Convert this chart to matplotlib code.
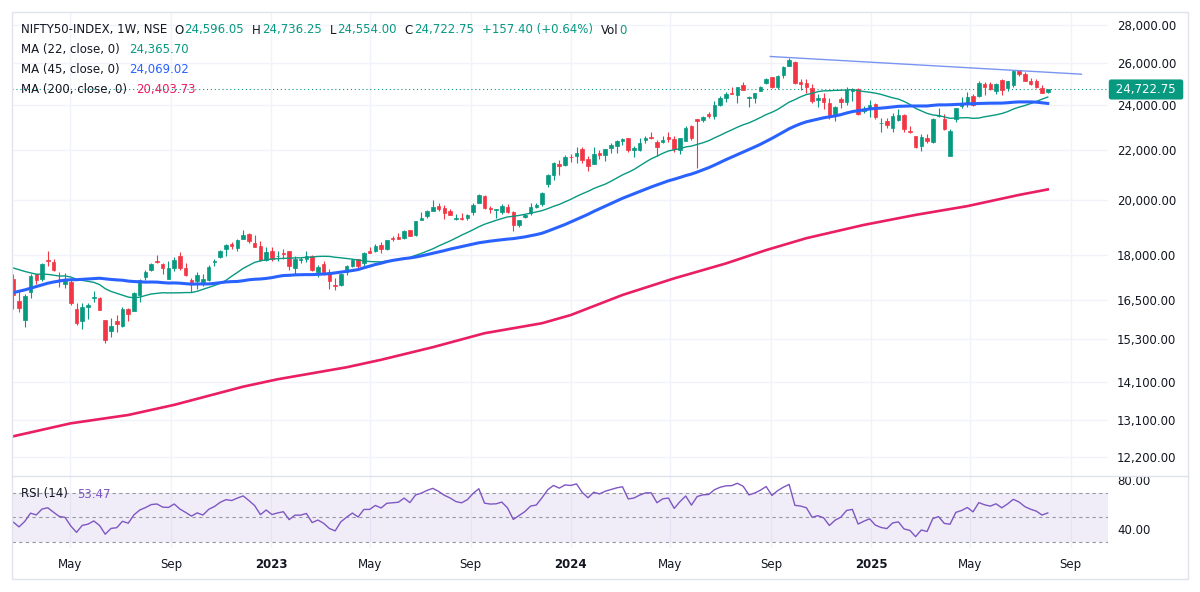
# %%

import numpy as np
import pandas as pd
import matplotlib
matplotlib.use('Agg')
import matplotlib.pyplot as plt
import matplotlib.dates as mdates
from matplotlib.lines import Line2D
from matplotlib.patches import Rectangle
from matplotlib.transforms import blended_transform_factory

# ----------------------
# Data (weekly NIFTY 50 bars)
# ----------------------

firstWeek = '2022-02-21'

opens = [
    17192, 16481, 15867, 16757, 17329, 17181, 17809, 17740, 17183, 17009,
    17096, 16227, 15845, 16290, 16578, 16570, 15877, 15557, 15839, 15710,
    16212, 16151, 16662, 17244, 17474, 17797, 17682, 17188, 17546, 17940,
    17541, 17157, 17102, 17094, 17144, 17736, 17910, 18211, 18376, 18246,
    18552, 18719, 18402, 18288, 17831, 18131, 17953, 18075, 18119, 17541,
    17818, 17859, 17965, 17428, 17681, 17422, 16985, 16978, 17428, 17597,
    17863, 17707, 18124, 18120, 18339, 18201, 18600, 18612, 18595, 18873,
    18682, 19246, 19400, 19588, 19748, 19685, 19576, 19292, 19320, 19312,
    19525, 19890, 20155, 19678, 19622, 19539, 19737, 19521, 19053, 19345,
    19487, 19731, 19844, 20601, 20965, 21434, 21365, 21728, 21747, 22053,
    21615, 21433, 21865, 21809, 22097, 22169, 22403, 22518, 21990, 21989,
    22455, 22578, 22339, 22336, 22568, 22489, 22028, 22404, 23039, 23338,
    23319, 23570, 23498, 23987, 24329, 24577, 24446, 24943, 24303, 24320,
    24637, 25011, 25333, 24823, 25406, 25872, 26061, 25084, 25023, 24798,
    24251, 24315, 24087, 23605, 24254, 24140, 24633, 24753, 23738, 23796,
    24045, 23195, 23290, 22940, 23319, 23544, 22809, 22609, 22194, 22522,
    22353, 23515, 23342, 21758, 23368, 23949, 24070, 24419, 24420, 25005,
    25002, 24669, 25160, 24788, 24939, 25661, 25450, 25149, 25108, 24782,
    24596.05]

highs = [
    17351, 16815, 16695, 17344, 17353, 17703, 18114, 17840, 17414, 17379,
    17132, 16404, 16400, 16415, 16794, 16610, 15886, 15928, 16025, 16275,
    16248, 16752, 17172, 17490, 17719, 17992, 17726, 17778, 17925, 18096,
    17723, 17196, 17428, 17348, 17637, 17838, 18176, 18362, 18442, 18534,
    18888, 18749, 18697, 18473, 18266, 18252, 18127, 18201, 18142, 17972,
    17916, 18134, 17973, 17645, 17800, 17529, 17207, 17381, 17638, 17842,
    17863, 18089, 18267, 18389, 18459, 18508, 18662, 18778, 18887, 18890,
    19202, 19524, 19596, 19991, 19867, 19796, 19645, 19465, 19512, 19458,
    19867, 20222, 20196, 19766, 19658, 19843, 19849, 19593, 19233, 19464,
    19875, 19875, 20291, 21006, 21493, 21593, 21801, 21834, 22125, 22124,
    21750, 22126, 22011, 22068, 22297, 22420, 22526, 22527, 22180, 22516,
    22620, 22776, 22427, 22625, 22794, 22588, 22526, 23026, 23111, 23339,
    23490, 23667, 24175, 24401, 24593, 24854, 24861, 25078, 24420, 24572,
    24867, 25268, 25333, 25433, 25849, 26277, 26134, 25234, 25212, 24978,
    24499, 24538, 24336, 23956, 24355, 24857, 24792, 24781, 23938, 24226,
    24089, 23391, 23426, 23632, 23808, 23568, 23050, 22625, 22677, 22677,
    23403, 23869, 23566, 22923, 23872, 24365, 24590, 24527, 25116, 25070,
    25079, 25030, 25222, 25136, 25654, 25669, 25548, 25255, 25242, 24956,
    24736.25]

lows = [
    16203, 16133, 15671, 16556, 17006, 17129, 17600, 17442, 16917, 16888,
    16340, 15736, 15601, 15903, 16444, 16172, 15184, 15368, 15511, 15662,
    15858, 16142, 16438, 17154, 17442, 17710, 17346, 17167, 17430, 17492,
    17291, 16748, 16855, 16950, 17098, 17598, 17900, 17969, 18210, 18133,
    18542, 18410, 18255, 17779, 17775, 17796, 17774, 17853, 17493, 17353,
    17699, 17761, 17455, 17255, 17324, 16850, 16828, 16940, 17312, 17573,
    17553, 17612, 18042, 18088, 18061, 18178, 18464, 18555, 18552, 18647,
    18646, 19234, 19302, 19562, 19563, 19296, 19413, 19253, 19230, 19224,
    19432, 19865, 19657, 19492, 19333, 19480, 19518, 18837, 18973, 19329,
    19414, 19677, 19768, 20507, 20769, 20977, 21330, 21500, 21448, 21450,
    21137, 21429, 21629, 21530, 21875, 21874, 22225, 21917, 21711, 21948,
    22303, 22468, 21777, 22305, 22348, 21932, 21821, 22404, 22418, 21281,
    23206, 23398, 23350, 23960, 24141, 24508, 24074, 24686, 23894, 24100,
    24635, 24999, 24802, 24753, 25285, 25871, 24966, 24694, 24567, 24074,
    23894, 23816, 23350, 23263, 23873, 24008, 24180, 23537, 23647, 23460,
    23344, 22787, 22976, 22787, 23263, 22775, 22725, 22105, 21965, 22315,
    22314, 23452, 22857, 21744, 23207, 23847, 23890, 23936, 24378, 24462,
    24704, 24526, 24473, 24666, 24825, 25378, 25129, 24918, 24806, 24535,
    24554.00]

closes = [
    16658, 16245, 16630, 17287, 17153, 17670, 17784, 17476, 17172, 17102,
    16411, 15782, 16266, 16352, 16584, 16201, 15293, 15699, 15752, 16220,
    16049, 16719, 17158, 17397, 17698, 17758, 17558, 17539, 17833, 17531,
    17327, 17094, 17315, 17186, 17576, 17787, 18117, 18350, 18307, 18512,
    18696, 18497, 18269, 17807, 18105, 17859, 17956, 18027, 17604, 17854,
    17856, 17944, 17465, 17594, 17413, 17100, 16945, 17359, 17599, 17828,
    17624, 18065, 18069, 18315, 18203, 18499, 18534, 18563, 18826, 18665,
    19189, 19332, 19564, 19745, 19646, 19517, 19428, 19310, 19266, 19435,
    19820, 20192, 19674, 19638, 19653, 19751, 19543, 19047, 19231, 19425,
    19732, 19795, 20268, 20969, 21457, 21349, 21731, 21711, 21895, 21572,
    21353, 21854, 21783, 22041, 22213, 22378, 22493, 22023, 22097, 22327,
    22514, 22519, 22147, 22420, 22476, 22055, 22502, 22957, 22531, 23290,
    23466, 23501, 24010, 24324, 24502, 24531, 24835, 24718, 24367, 24541,
    24823, 25236, 24852, 25357, 25791, 26179, 25014, 24964, 24854, 24181,
    24304, 24148, 23533, 23907, 24131, 24678, 24768, 23588, 23813, 24005,
    23432, 23203, 23092, 23482, 23560, 22929, 22796, 22125, 22553, 22397,
    23350, 23519, 22904, 22829, 23851, 24039, 24347, 24008, 25019, 24853,
    24751, 25003, 24719, 25112, 25637, 25461, 25150, 24968, 24837, 24565.35,
    24722.75]

# 44 weekly closes before the first bar (Apr 2021 - Feb 2022), used to warm up the MAs and RSI
warmupCloses = [
    14341, 14631, 14823, 14677, 15175, 15436, 15670, 15799, 15683, 15860,
    15722, 15690, 15923, 15856, 15763, 16238, 16529, 16450, 16705, 17324,
    17369, 17585, 17853, 17532, 17895, 18339, 18115, 17672, 17917, 18103,
    17765, 17027, 17197, 17512, 16985, 17004, 17354, 17813, 18256, 17617,
    17102, 17516, 17375, 17276]

ma200Weeks = [0, 10, 20, 28, 40, 46, 58, 64, 73, 82, 92, 97, 106, 115, 124, 131, 138, 148, 157, 166, 175, 180]
ma200Vals = [12700, 13020, 13230, 13490, 13970, 14170, 14500, 14710, 15070, 15480, 15780,
             16030, 16660, 17200, 17700, 18160, 18580, 19060, 19430, 19760, 20190, 20404]

trendDates = ['2024-08-31', '2025-09-14']
trendPrices = [26340, 25460]

maLengths = [22, 45, 200]
maLegendVals = ['24,365.70', '24,069.02', '20,403.73']
rsiLegendVal = '53.47'

priceTicks = [12200, 13100, 14100, 15300, 16500, 18000, 20000, 22000, 24000, 26000, 28000]
rsiTicks = [40, 80]
rsiLevels = [30, 50, 70]

timeTicks = ['2022-05-01', '2022-09-01', '2023-01-01', '2023-05-01', '2023-09-01', '2024-01-01',
             '2024-05-01', '2024-09-01', '2025-01-01', '2025-05-01', '2025-09-01']
timeLabels = ['May', 'Sep', '2023', 'May', 'Sep', '2024', 'May', 'Sep', '2025', 'May', 'Sep']

# %%

# ----------------------
# Indicators
# ----------------------

GREEN = '#089981'
RED = '#f23645'
DARK = '#131722'
BLUE = '#2962ff'
PINK = '#e91e63'
PURPLE = '#7e57c2'

o = np.array(opens)
h = np.array(highs)
l = np.array(lows)
c = np.array(closes)
dates = pd.date_range(firstWeek, periods=len(closes), freq='7D')
xDates = mdates.date2num(dates)

allCloses = pd.Series(warmupCloses + closes, dtype=float)
nWarm = len(warmupCloses)
ma22 = allCloses.rolling(22).mean().values[nWarm:]
ma45 = allCloses.rolling(45).mean().values[nWarm:]

delta = allCloses.diff()
gain = delta.clip(lower=0).ewm(alpha=1/14, adjust=False).mean()
loss = (-delta.clip(upper=0)).ewm(alpha=1/14, adjust=False).mean()
rsi = (100 - 100/(1 + gain/loss)).values[nWarm:]

# %%

# ----------------------
# Figure
# ----------------------

W, H = 1200, 592
fig = plt.figure(figsize=(W/100, H/100), dpi=100)
plt.rcParams['font.family'] = 'DejaVu Sans'

left, right = 12, 1108
priceAx = fig.add_axes([left/W, 1 - 476/H, (right-left)/W, (476-12)/H])
rsiAx = fig.add_axes([left/W, 1 - 548/H, (right-left)/W, (548-476)/H], sharex=priceAx)

upBar = c >= o
barColors = np.where(upBar, GREEN, RED)

priceAx.vlines(xDates, l, h, colors=barColors, linewidth=0.8, zorder=3)
priceAx.bar(xDates, np.abs(c - o), bottom=np.minimum(o, c), width=4.3,
            color=barColors, edgecolor=barColors, linewidth=0.5, zorder=4)

priceAx.plot(xDates, ma22, color=GREEN, linewidth=1.0, zorder=5)
priceAx.plot(xDates, ma45, color=BLUE, linewidth=2.2, zorder=5)
priceAx.plot(xDates[ma200Weeks], ma200Vals, color=PINK, linewidth=1.9, zorder=5)
priceAx.plot(mdates.date2num(pd.to_datetime(trendDates)), trendPrices, color='#7a95f0', linewidth=1.0, zorder=5)
priceAx.axhline(c[-1], color=GREEN, linewidth=0.8, linestyle=(0, (1, 2.5)), zorder=2)

priceAx.set_yscale('log')
priceAx.set_ylim(11767, 28690)
priceAx.set_yticks(priceTicks)
priceAx.set_yticklabels([f'{v:,.2f}' for v in priceTicks])
priceAx.yaxis.set_minor_locator(matplotlib.ticker.NullLocator())
priceAx.yaxis.tick_right()
priceAx.tick_params(axis='y', length=0, pad=6.5, labelsize=8.5, colors=DARK)
priceAx.tick_params(axis='x', length=0, labelbottom=False)

# RSI pane
rsiAx.axhspan(rsiLevels[0], rsiLevels[-1], color=PURPLE, alpha=0.1, linewidth=0)
for lvl in rsiLevels:
    rsiAx.axhline(lvl, color='#9598a1', linewidth=0.8, linestyle=(0, (3, 3)))
rsiAx.plot(xDates, rsi, color=PURPLE, linewidth=1.0)
rsiAx.set_ylim(24.9, 83.6)
rsiAx.set_yticks(rsiTicks)
rsiAx.set_yticklabels([f'{v:.2f}' for v in rsiTicks])
rsiAx.yaxis.tick_right()
rsiAx.tick_params(axis='y', length=0, pad=6.5, labelsize=8.5, colors=DARK)

tickNums = mdates.date2num(pd.to_datetime(timeTicks))
rsiAx.set_xticks(tickNums)
rsiAx.set_xticklabels(timeLabels)
for lab in rsiAx.get_xticklabels():
    if lab.get_text().isdigit():
        lab.set_fontweight('bold')
rsiAx.tick_params(axis='x', length=0, pad=7, labelsize=8.5, colors=DARK)

pxPerDay = 5.747 / 7
rsiAx.set_xlim(xDates[0] - 1.3/pxPerDay, xDates[0] + (right - 13.3)/pxPerDay)

for a in (priceAx, rsiAx):
    for s in a.spines.values():
        s.set_visible(False)
    a.set_axisbelow(True)
priceAx.grid(True, color='#f0f3fa', linewidth=1)
rsiAx.grid(True, axis='x', color='#f0f3fa', linewidth=1)

# last price tag
tagTrans = blended_transform_factory(priceAx.transAxes, priceAx.transData)
priceAx.text(1.0347, c[-1], f' {c[-1]:,.2f} ', transform=tagTrans, ha='center', va='center',
             color='white', fontsize=8.5, clip_on=False, zorder=20,
             bbox=dict(boxstyle='round,pad=0.3,rounding_size=0.2', fc=GREEN, ec='none'))

# frame
fig.add_artist(Rectangle((12/W, 1 - 579/H), (1188-12)/W, (579-12)/H, transform=fig.transFigure,
                         fill=False, edgecolor='#e0e3eb', linewidth=1))
fig.add_artist(Line2D([12/W, 1188/W], [1 - 476/H, 1 - 476/H], transform=fig.transFigure,
                      color='#e0e3eb', linewidth=1))

# %%

# ----------------------
# Legend text rows
# ----------------------

renderer = fig.canvas.get_renderer()

def writeRun(xPx, yPx, parts, size=8.5):
    for txt, col, gap in parts:
        t = fig.text(xPx/W, 1 - yPx/H, txt, color=col, fontsize=size, ha='left', va='center', zorder=30)
        xPx += t.get_window_extent(renderer).width + gap

change = c[-1] - c[-2]
pct = 100 * change / c[-2]
writeRun(21, 30, [('NIFTY50-INDEX, 1W, NSE', DARK, 7),
                  ('O', DARK, 1), (f'{o[-1]:,.2f}', GREEN, 8),
                  ('H', DARK, 1), (f'{h[-1]:,.2f}', GREEN, 8),
                  ('L', DARK, 1), (f'{l[-1]:,.2f}', GREEN, 8),
                  ('C', DARK, 1), (f'{c[-1]:,.2f}', GREEN, 8),
                  (f'{change:+,.2f} ({pct:+.2f}%)', GREEN, 8),
                  ('Vol', DARK, 1), ('0', GREEN, 0)])

maColors = [GREEN, BLUE, PINK]
for row, (n, val, col) in enumerate(zip(maLengths, maLegendVals, maColors)):
    writeRun(21, 50 + row*19.5, [(f'MA ({n}, close, 0)', DARK, 9), (val, col, 0)])

writeRun(21, 494, [('RSI (14)', DARK, 9), (rsiLegendVal, PURPLE, 0)])

plt.savefig('out.png', dpi=100)
